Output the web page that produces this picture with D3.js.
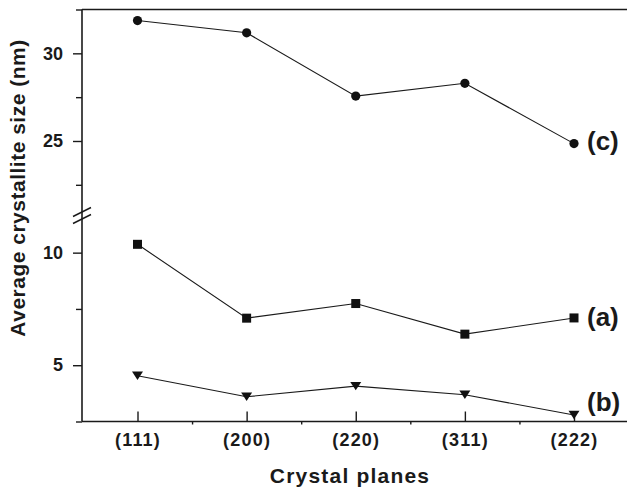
<!DOCTYPE html>
<html>
<head>
<meta charset="utf-8">
<script src="https://cdn.jsdelivr.net/npm/d3@7"></script>
<style>
  body { margin: 0; background: #fff; }
  text { font-family: "Liberation Sans", Arial, sans-serif; font-weight: bold; fill: #1a1a1a; }
</style>
</head>
<body>
<svg id="chart" width="627" height="490"></svg>
<script>
// values
const planes = ["(111)", "(200)", "(220)", "(311)", "(222)"];
const sizeC = [31.87, 31.17, 27.56, 28.29, 24.85];   // circles, upper segment
const sizeA = [10.37, 7.09, 7.74, 6.38, 7.10];       // squares
const sizeB = [4.53, 3.60, 4.07, 3.69, 2.79];        // triangles
const upperTicks = [25, 30];
const lowerTicks = [5, 10];
const upperMinor = [22.5, 27.5, 32.5];
const lowerMinor = [2.5, 7.5];

const svg = d3.select("#chart");
svg.append("rect").attr("width", 627).attr("height", 490).attr("fill", "#fff");

const plotLeft = 82, plotTop = 9.5, plotBottom = 421.5, plotRight = 640, breakY = 215.5;

const x = d3.scaleLinear().domain([0, 4]).range([137.5, 574]);
// broken y axis: two scales stacked
const yUp = d3.scaleLinear().domain([20.75, 32.5]).range([breakY, plotTop]);
const yLo = d3.scaleLinear().domain([2.5, 11.65]).range([plotBottom, breakY]);

const ink = "#1a1a1a";

// frame lines
svg.append("line").attr("x1", plotLeft).attr("x2", plotRight).attr("y1", plotTop).attr("y2", plotTop)
    .attr("stroke", ink).attr("stroke-width", 1.6);
svg.append("line").attr("x1", plotLeft).attr("x2", plotRight).attr("y1", plotBottom).attr("y2", plotBottom)
    .attr("stroke", ink).attr("stroke-width", 1.6);
svg.append("line").attr("x1", plotLeft).attr("x2", plotLeft).attr("y1", plotTop).attr("y2", plotBottom)
    .attr("stroke", ink).attr("stroke-width", 1.6);

const styleAxis = (g) => {
    g.select(".domain").remove();
    g.selectAll(".tick line").attr("stroke", ink).attr("stroke-width", 1.4);
    g.selectAll(".tick text").attr("font-size", 18).attr("fill", ink);
    g.attr("font-family", null).attr("font-size", null);
};

// y axes (major + minor, each segment)
[[yUp, upperTicks, upperMinor], [yLo, lowerTicks, lowerMinor]].forEach(([sc, major, minor]) => {
    svg.append("g").attr("transform", `translate(${plotLeft},0)`)
        .call(d3.axisLeft(sc).tickValues(major).tickSize(9).tickPadding(10).tickFormat(d3.format("d")))
        .call(styleAxis);
    svg.append("g").attr("transform", `translate(${plotLeft},0)`)
        .call(d3.axisLeft(sc).tickValues(minor).tickSize(6).tickFormat(""))
        .call(styleAxis);
});

// break marks
[-3.5, 3.5].forEach((off) => {
    svg.append("line")
        .attr("x1", plotLeft - 9).attr("y1", breakY + off + 4.5)
        .attr("x2", plotLeft + 9).attr("y2", breakY + off - 4.5)
        .attr("stroke", ink).attr("stroke-width", 1.4);
});

// x axis
const xAxis = svg.append("g").attr("transform", `translate(0,${plotBottom})`)
    .call(d3.axisBottom(x).tickValues(d3.range(planes.length)).tickSizeInner(-10).tickSizeOuter(0)
        .tickFormat((i) => planes[i]))
    .call(styleAxis);
xAxis.selectAll(".tick text")
    .attr("dy", null).attr("y", 24).attr("font-size", 18).attr("letter-spacing", 1.2);
svg.append("g").attr("transform", `translate(0,${plotBottom})`)
    .call(d3.axisBottom(x).tickValues([0.5, 1.5, 2.5, 3.5]).tickSize(3).tickFormat(""))
    .call(styleAxis);

// series
const line = (sc) => d3.line().x((d, i) => x(i)).y((d) => sc(d));
const drawLine = (vals, sc) => svg.append("path").datum(vals)
    .attr("d", line(sc)).attr("fill", "none").attr("stroke", ink).attr("stroke-width", 1.1);

drawLine(sizeC, yUp);
drawLine(sizeA, yLo);
drawLine(sizeB, yLo);

svg.append("g").selectAll("circle").data(sizeC).join("circle")
    .attr("cx", (d, i) => x(i)).attr("cy", (d) => yUp(d)).attr("r", 4.6).attr("fill", "#111");

svg.append("g").selectAll("rect").data(sizeA).join("rect")
    .attr("x", (d, i) => x(i) - 4.5).attr("y", (d) => yLo(d) - 4.5)
    .attr("width", 9).attr("height", 9).attr("fill", "#111");

svg.append("g").selectAll("path").data(sizeB).join("path")
    .attr("d", (d, i) => {
        const cx = x(i), cy = yLo(d);
        return `M${cx - 5.5},${cy - 4.2}L${cx + 5.5},${cy - 4.2}L${cx},${cy + 4.2}Z`;
    })
    .attr("fill", "#111");

// series labels
const labels = [["(c)", 150], ["(a)", 326], ["(b)", 411]];
svg.append("g").selectAll("text").data(labels).join("text")
    .attr("x", 587).attr("y", (d) => d[1]).attr("font-size", 26).text((d) => d[0]);

// axis titles
svg.append("text").attr("x", 350).attr("y", 483).attr("text-anchor", "middle")
    .attr("font-size", 21).attr("letter-spacing", 1.2).text("Crystal planes");
svg.append("text").attr("transform", "translate(25,188) rotate(-90)").attr("text-anchor", "middle")
    .attr("font-size", 21).attr("letter-spacing", 0.5).text("Average crystallite size (nm)");
</script>
</body>
</html>
